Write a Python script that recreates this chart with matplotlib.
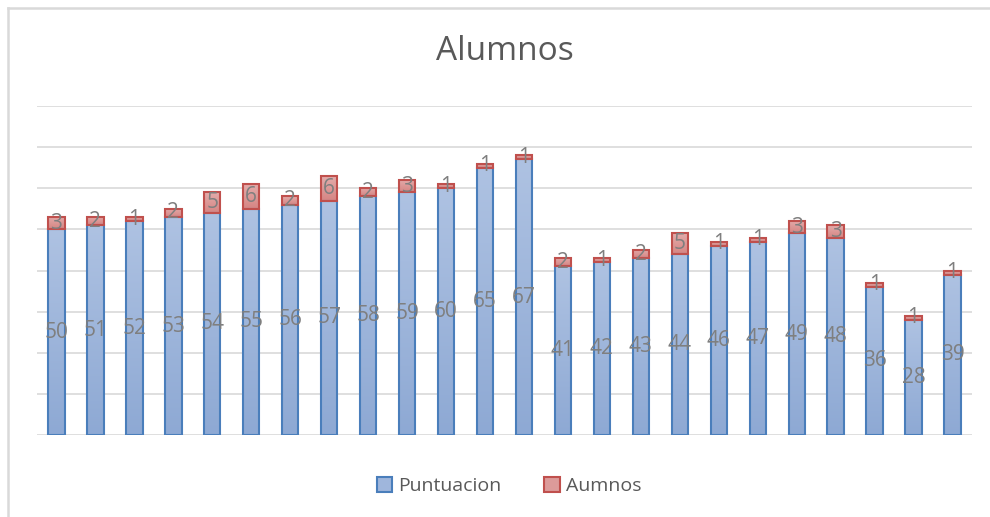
import matplotlib.pyplot as plt
from matplotlib.patches import Rectangle
from matplotlib.lines import Line2D
from matplotlib.colors import LinearSegmentedColormap
import numpy as np

# valores
puntuacion = [50, 51, 52, 53, 54, 55, 56, 57, 58, 59, 60, 65, 67,
              41, 42, 43, 44, 46, 47, 49, 48, 36, 28, 39]
aumnos = [3, 2, 1, 2, 5, 6, 2, 6, 2, 3, 1, 1, 1,
          2, 1, 2, 5, 1, 1, 3, 3, 1, 1, 1]
series = ["Puntuacion", "Aumnos"]

plt.rcParams['font.family'] = ['Open Sans', 'DejaVu Sans']

fig = plt.figure(figsize=(9.9, 5.17), dpi=100)
ax = fig.add_axes([37 / 990, 1 - 435 / 517, 935 / 990, 329 / 517])

x = np.arange(len(puntuacion))
w = 0.42
b1 = ax.bar(x, puntuacion, width=w, color="#9fb6dc", edgecolor="#4a7ebb",
            linewidth=1.5, label=series[0], zorder=3)
b2 = ax.bar(x, aumnos, width=w, bottom=puntuacion, color="#dc9b9a",
            edgecolor="#c0504d", linewidth=1.5, label=series[1], zorder=3)

# degradado vertical como en Excel
blue_cm = LinearSegmentedColormap.from_list("b", ["#8ea9d4", "#aec2e2"])
red_cm = LinearSegmentedColormap.from_list("r", ["#d68583", "#e3acab"])
grad = np.linspace(0, 1, 100).reshape(-1, 1)
for bars, cm in ((b1, blue_cm), (b2, red_cm)):
    for p in bars:
        x0, y0 = p.get_x(), p.get_y()
        im = ax.imshow(grad, cmap=cm, origin="lower", aspect="auto",
                       extent=[x0, x0 + p.get_width(), y0, y0 + p.get_height()],
                       zorder=3.5)
        im.set_clip_path(p)
        p.set_facecolor("none")
        p.set_zorder(4)

ax.bar_label(b1, label_type="center", color="#7f7f7f", fontsize=15, zorder=5)
ax.bar_label(b2, label_type="center", color="#7f7f7f", fontsize=15, zorder=5)

ax.set_xlim(-0.5, len(puntuacion) - 0.5)
ax.set_ylim(0, 80)
ax.set_yticks(range(0, 81, 10))
ax.grid(axis="y", color="#d9d9d9", linewidth=1.2, zorder=0)
ax.tick_params(left=False, bottom=False, labelleft=False, labelbottom=False)
for s in ax.spines.values():
    s.set_visible(False)

fig.text(505 / 990, 1 - 52 / 517, "Alumnos", ha="center", va="center",
         fontsize=24, color="#595959")

handles = [Rectangle((0, 0), 1, 1, facecolor="#9fb6dc", edgecolor="#4a7ebb", lw=1.5),
           Rectangle((0, 0), 1, 1, facecolor="#dc9b9a", edgecolor="#c0504d", lw=1.5)]
fig.legend(handles, series, loc="center", bbox_to_anchor=(509 / 990, 1 - 486 / 517),
           ncol=2, frameon=False, fontsize=14, labelcolor="#595959",
           handlelength=0.8, handleheight=0.8, handletextpad=0.3, columnspacing=2.2)

# borde del area del grafico (solo izquierda y arriba quedan visibles)
bx, by = 8 / 990, 1 - 8 / 517
fig.lines.append(Line2D([bx, bx], [0, by], transform=fig.transFigure,
                        color="#d9d9d9", linewidth=1.8))
fig.lines.append(Line2D([bx, 1.0], [by, by], transform=fig.transFigure,
                        color="#d9d9d9", linewidth=1.8))

fig.savefig("out.png", dpi=100)
